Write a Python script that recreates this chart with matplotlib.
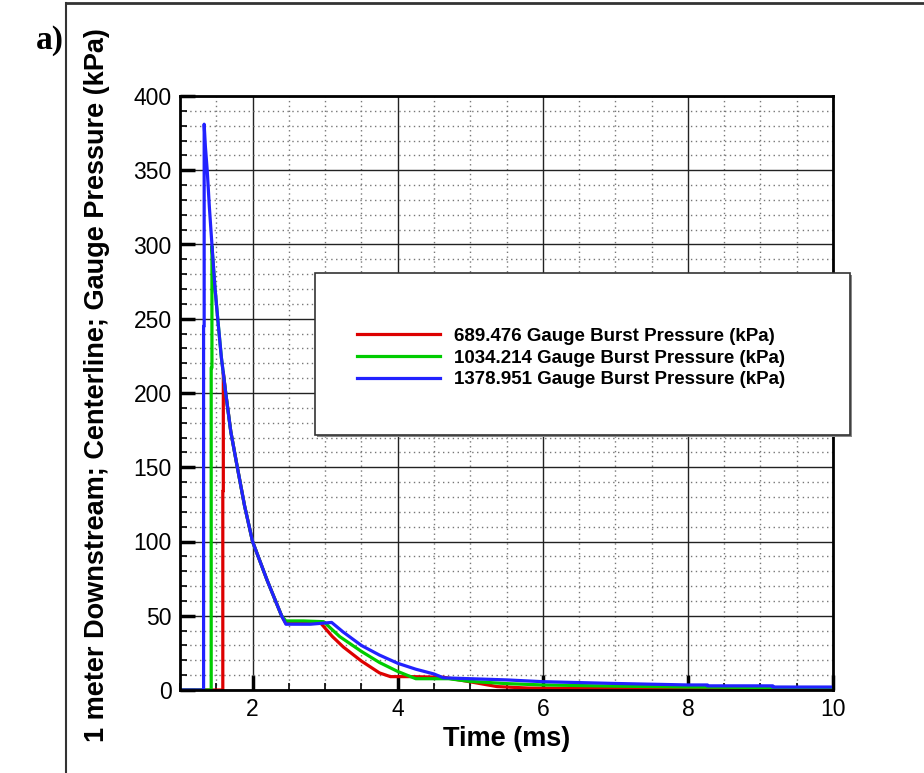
import matplotlib
matplotlib.use("Agg")
import matplotlib.pyplot as plt
from matplotlib.patches import Rectangle
from matplotlib.lines import Line2D
from matplotlib.ticker import MultipleLocator

# pressure traces (time in ms, gauge pressure in kPa)
t_689 = [1.0, 1.59, 1.59, 1.597, 1.597, 1.63, 1.7, 1.79, 1.89, 2.0, 2.2, 2.4, 2.46, 2.7, 2.94,
         3.1, 3.25, 3.5, 3.75, 3.9, 4.2, 4.63, 5.0, 5.37, 5.8, 6.5, 8.0, 10.0]
p_689 = [0, 0, 134, 134, 214, 200, 174, 150, 124, 100, 74, 50, 44.8, 45, 45,
         36, 29, 19.5, 11.5, 9, 9, 8.6, 5.5, 2.3, 1.3, 1.0, 0.9, 0.8]

t_1034 = [1.0, 1.43, 1.43, 1.44, 1.44, 1.48, 1.52, 1.57, 1.63, 1.7, 1.79, 1.89, 2.0, 2.2, 2.4,
          2.46, 2.7, 2.98, 3.2, 3.5, 3.75, 4.0, 4.25, 4.7, 5.0, 5.5, 6.0, 7.0, 8.0, 9.0, 10.0]
p_1034 = [0, 0, 217, 217, 299, 272, 250, 224, 200, 174, 150, 124, 100, 74, 50,
          46.5, 46.5, 46, 36, 26, 18.5, 12.5, 7.6, 7.6, 5.8, 4.3, 3.4, 2.6, 2.0, 1.7, 1.5]

t_1379 = [1.0, 1.325, 1.325, 1.333, 1.333, 1.35, 1.375, 1.405, 1.44, 1.48, 1.52, 1.57, 1.63,
          1.7, 1.79, 1.89, 2.0, 2.2, 2.4, 2.46, 2.8, 3.09, 3.25, 3.5, 3.75, 4.0, 4.25, 4.5,
          4.63, 5.0, 5.5, 6.0, 7.0, 8.0, 8.27, 8.27, 9.17, 9.17, 10.0]
p_1379 = [0, 0, 245, 245, 381, 366, 350, 325, 300, 272, 250, 224, 200,
          174, 150, 124, 100, 74, 50, 44.3, 44.3, 45.5, 39, 30, 23.5, 18, 14, 10.8,
          8.2, 7.6, 6.8, 5.6, 4.4, 3.4, 3.4, 2.8, 2.8, 2.0, 2.0]

labels = ["689.476 Gauge Burst Pressure (kPa)",
          "1034.214 Gauge Burst Pressure (kPa)",
          "1378.951 Gauge Burst Pressure (kPa)"]
colors = ["#dd0000", "#00cc00", "#2222ff"]

W, H = 924, 773
fig = plt.figure(figsize=(W / 100, H / 100), dpi=100)
ax = fig.add_axes([180 / W, 1 - 690 / H, (833 - 180) / W, (690 - 96) / H])

ax.plot(t_689, p_689, color=colors[0], lw=2.3, zorder=3)
ax.plot(t_1034, p_1034, color=colors[1], lw=2.3, zorder=4)
ax.plot(t_1379, p_1379, color=colors[2], lw=2.3, zorder=5)

ax.set_xlim(1.0, 10)
ax.set_ylim(0, 400)
ax.xaxis.set_major_locator(MultipleLocator(2))
ax.xaxis.set_minor_locator(MultipleLocator(0.5))
ax.yaxis.set_major_locator(MultipleLocator(50))
ax.yaxis.set_minor_locator(MultipleLocator(10))

ax.grid(which="major", color="#222222", lw=1.0, ls="-")
ax.grid(which="minor", color="#777777", lw=1.0, ls=(0, (1, 2.5)))
ax.set_axisbelow(True)

ax.tick_params(which="major", direction="in", length=11, width=2.5,
               labelsize=16.5, pad=6, top=False, right=False)
ax.tick_params(which="minor", direction="in", length=5, width=1.2,
               top=False, right=False)
for lab in ax.get_xticklabels() + ax.get_yticklabels():
    lab.set_fontfamily("Liberation Sans")
for s in ax.spines.values():
    s.set_linewidth(2)
    s.set_zorder(6)

ax.set_xlabel("Time (ms)", fontsize=19.5, fontweight="bold",
              fontfamily="Liberation Sans", labelpad=3)
fig.text(97 / W, 1 - 385 / H, "1 meter Downstream; Centerline; Gauge Pressure (kPa)",
         rotation=90, ha="center", va="center", fontsize=19.5, fontweight="bold",
         fontfamily="Liberation Sans")

# legend box
fig.patches.append(Rectangle((317 / W, 1 - 437 / H), 535 / W, 162 / H,
                             transform=fig.transFigure, facecolor="#888888",
                             edgecolor="none", zorder=10))
fig.patches.append(Rectangle((315 / W, 1 - 435 / H), 535 / W, 162 / H,
                             transform=fig.transFigure, facecolor="white",
                             edgecolor="#333333", lw=1.2, zorder=11))
handles = [Line2D([], [], color=c, lw=2.3) for c in colors]
leg = fig.legend(handles, labels, loc="center left",
                 bbox_to_anchor=(357 / W, 1 - 358 / H), frameon=False,
                 borderpad=0, borderaxespad=0, handlelength=4.4,
                 handletextpad=0.75, labelspacing=0.25,
                 prop={"family": "Liberation Sans", "weight": "bold", "size": 13.5})
leg.set_zorder(12)

# outer frame and panel label
fig.add_artist(Line2D([66 / W, 66 / W], [0, 1 - 3 / H], color="#333333", lw=1.5))
fig.add_artist(Line2D([66 / W, 1], [1 - 3 / H, 1 - 3 / H], color="#333333", lw=2))
fig.text(50 / W, 1 - 40 / H, "a)", ha="center", va="center", fontsize=24,
         fontweight="bold", fontfamily="Liberation Serif")

fig.savefig("out.png", dpi=100)
